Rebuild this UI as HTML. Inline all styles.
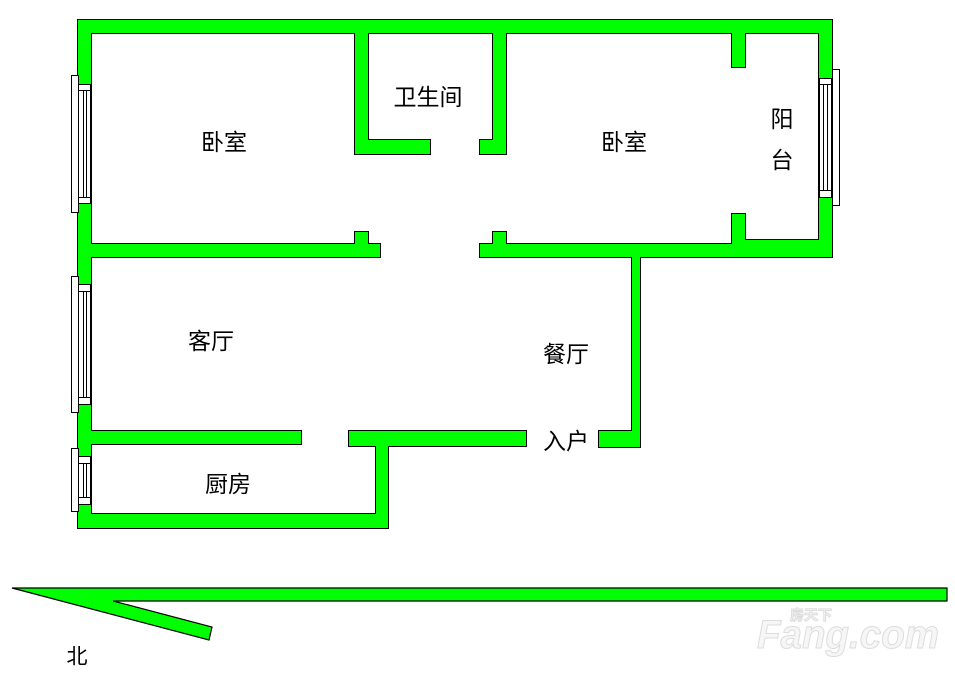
<!DOCTYPE html>
<html><head><meta charset="utf-8"><style>
html,body{margin:0;padding:0;background:#fff;}
svg{display:block;}
text{font-family:"Liberation Sans","Noto Sans CJK SC",sans-serif;font-size:23px;fill:#000;}
</style></head><body>
<svg width="955" height="674" viewBox="0 0 955 674" xmlns="http://www.w3.org/2000/svg">
<defs>
<g id="walls">
<rect x="78" y="20" width="754" height="13"/>
<rect x="78" y="20" width="13" height="508"/>
<rect x="819" y="20" width="13" height="237"/>
<rect x="355" y="20" width="13" height="134"/>
<rect x="355" y="140" width="75" height="14"/>
<rect x="493" y="20" width="13" height="134"/>
<rect x="480" y="140" width="26" height="14"/>
<rect x="78" y="244" width="302" height="13"/>
<rect x="355" y="232" width="13" height="20"/>
<rect x="480" y="244" width="352" height="13"/>
<rect x="493" y="232" width="13" height="20"/>
<rect x="732" y="20" width="13" height="47"/>
<rect x="732" y="214" width="13" height="43"/>
<rect x="745" y="240" width="87" height="17"/>
<rect x="632" y="250" width="8" height="197"/>
<rect x="599" y="431" width="41" height="16"/>
<rect x="78" y="431" width="223" height="13"/>
<rect x="349" y="431" width="177" height="15"/>
<rect x="376" y="431" width="12" height="97"/>
<rect x="78" y="514" width="310" height="14"/>
</g>
</defs>
<g fill="#000" stroke="#000" stroke-width="2"><use href="#walls"/></g>
<g fill="#00ff00"><use href="#walls"/></g>

<g fill="#fff" stroke="#000" stroke-width="1">
<rect x="71.5" y="75.5" width="7" height="137"/>
<rect x="78.5" y="84.5" width="12" height="6"/>
<rect x="78.5" y="197.5" width="12" height="6"/>
<rect x="78.5" y="90.5" width="12" height="107"/>
<line x1="83.5" y1="90" x2="83.5" y2="198"/><line x1="86.5" y1="90" x2="86.5" y2="198"/>

<rect x="71.5" y="276.5" width="7" height="136"/>
<rect x="78.5" y="284.5" width="12" height="7"/>
<rect x="78.5" y="397.5" width="12" height="7"/>
<rect x="78.5" y="291.5" width="12" height="106"/>
<line x1="83.5" y1="291" x2="83.5" y2="398"/><line x1="86.5" y1="291" x2="86.5" y2="398"/>

<rect x="71.5" y="448.5" width="7" height="63"/>
<rect x="78.5" y="456.5" width="12" height="7"/>
<rect x="78.5" y="497.5" width="12" height="7"/>
<rect x="78.5" y="463.5" width="12" height="34"/>
<line x1="83.5" y1="463" x2="83.5" y2="498"/><line x1="86.5" y1="463" x2="86.5" y2="498"/>

<rect x="832.5" y="69.5" width="7" height="136"/>
<rect x="819.5" y="78.5" width="12" height="6"/>
<rect x="819.5" y="190.5" width="12" height="7"/>
<rect x="819.5" y="84.5" width="12" height="106"/>
<line x1="823.5" y1="84" x2="823.5" y2="191"/><line x1="827.5" y1="84" x2="827.5" y2="191"/>
</g>

<polygon points="12,588 947,588 947,601 113,601 212,627 209,640" fill="#00ff00" stroke="#000" stroke-width="1.2"/>

<g text-anchor="middle" dominant-baseline="central">
<text x="224" y="142">卧室</text>
<text x="428" y="97">卫生间</text>
<text x="624" y="142">卧室</text>
<text x="782" y="119">阳</text>
<text x="782" y="160">台</text>
<text x="211" y="341">客厅</text>
<text x="566" y="354">餐厅</text>
<text x="566" y="441">入户</text>
<text x="228" y="484">厨房</text>
<text x="77" y="657" style="font-size:21px">北</text>
</g>

<g stroke="#dcdcdc" stroke-width="1">
<text x="757" y="648" textLength="182" lengthAdjust="spacingAndGlyphs" style="font-size:40px;font-weight:bold;font-style:italic;fill:#f6f6f6">Fang.com</text>
<text x="790" y="620" style="font-size:14px;font-weight:bold;fill:#f6f6f6">房天下</text>
</g>
</svg>
</body></html>
